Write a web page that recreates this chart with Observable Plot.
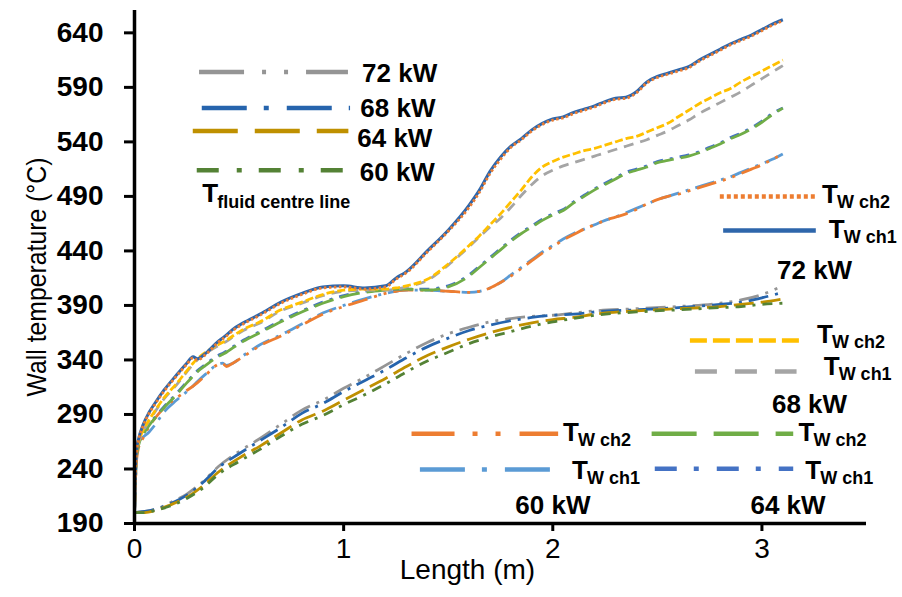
<!DOCTYPE html>
<html>
<head>
<meta charset="utf-8">
<script src="https://cdn.jsdelivr.net/npm/d3@7"></script>
<script src="https://cdn.jsdelivr.net/npm/@observablehq/plot@0.6"></script>
<style>
  body { margin: 0; background: #fff; }
  #chart svg { display: block; }
</style>
</head>
<body>
<div id="chart"></div>
<script>
// ---- Axis ticks ----
const xTicks = [0, 1, 2, 3];
const yTicks = [190, 240, 290, 340, 390, 440, 490, 540, 590, 640];

// ---- Wall temperature series (°C) along the channel length (m) ----
const wallLength = [0, 0.005, 0.01, 0.02, 0.04, 0.07, 0.1, 0.14, 0.2, 0.25,
  0.28, 0.3, 0.34, 0.4, 0.42, 0.44, 0.47, 0.52, 0.6, 0.7,
  0.8, 0.9, 1.0, 1.1, 1.2, 1.25, 1.3, 1.4, 1.5, 1.6,
  1.65, 1.7, 1.75, 1.8, 1.85, 1.9, 1.95, 2.0, 2.05, 2.1,
  2.15, 2.2, 2.25, 2.3, 2.35, 2.4, 2.45, 2.5, 2.55, 2.6,
  2.65, 2.7, 2.75, 2.8, 2.85, 2.9, 2.95, 3.0, 3.05, 3.1];

const wall72ch1 = [200, 240, 258, 268, 280, 292, 301, 312, 326, 337,
  343, 341, 346, 357, 360, 363, 368, 374, 382, 393,
  401, 407, 408, 406, 408, 415, 421, 440, 459, 482,
  496, 513, 526, 536, 543, 551, 557, 561, 563, 567,
  570, 573, 577, 580, 581, 586, 595, 600, 603, 606,
  609, 615, 620, 625, 630, 634, 638, 643, 648, 652];
const wall72ch2 = [200, 238, 256, 267, 279, 291, 300, 311, 325, 336,
  342, 340, 345, 356, 359, 362, 367, 373, 381, 392,
  400, 406, 407, 405, 407, 414, 420, 439, 458, 480,
  494, 511, 524, 535, 542, 550, 556, 560, 562, 566,
  569, 572, 576, 579, 580, 585, 594, 599, 602, 605,
  608, 614, 619, 624, 629, 633, 637, 642, 647, 651];
const wall68ch2 = [200, 236, 255, 265, 275, 285, 294, 305, 318, 330,
  337, 341, 347, 354, 356, 358, 362, 368, 375, 386,
  393, 400, 404, 405, 405, 406, 408, 414, 428, 445,
  454, 464, 474, 485, 496, 508, 517, 522, 526, 529,
  532, 534, 537, 540, 543, 545, 549, 553, 557, 563,
  569, 575, 580, 585, 589, 595, 600, 605, 610, 615];
const wall68ch1 = [200, 235, 254, 264, 274, 284, 293, 304, 317, 329,
  336, 340, 346, 353, 355, 357, 361, 367, 374, 385,
  392, 399, 403, 404, 404, 405, 407, 413, 427, 444,
  453, 462, 470, 480, 491, 501, 509, 514, 518, 521,
  524, 527, 530, 533, 536, 539, 542, 546, 550, 555,
  560, 566, 571, 576, 581, 586, 592, 598, 604, 610];
const wall64ch2 = [200, 232, 252, 262, 271, 280, 287, 296, 308, 319,
  325, 329, 335, 343, 345, 347, 351, 357, 365, 375,
  384, 392, 398, 402, 404, 405, 405, 404, 407, 417,
  425, 433, 441, 449, 456, 462, 468, 473, 477, 484,
  490, 496, 501, 506, 511, 514, 517, 521, 523, 525,
  527, 530, 534, 538, 543, 547, 552, 558, 565, 571];
const wall64ch1 = [200, 233, 253, 263, 272, 281, 288, 297, 309, 320,
  326, 330, 336, 344, 346, 348, 352, 358, 366, 376,
  385, 393, 399, 403, 404, 405, 405, 405, 408, 418,
  426, 434, 442, 450, 457, 463, 469, 474, 478, 485,
  491, 497, 502, 507, 512, 515, 518, 522, 524, 526,
  528, 531, 535, 539, 544, 548, 553, 559, 566, 571];
const wall60ch2 = [200, 228, 248, 260, 268, 279, 287, 296, 305, 312,
  316, 319, 326, 336, 337, 334, 337, 343, 353, 362,
  372, 382, 389, 395, 401, 403, 404, 404, 403, 402,
  403, 406, 411, 417, 424, 431, 438, 444, 450, 455,
  460, 464, 468, 471, 474, 478, 483, 487, 490, 492,
  495, 498, 501, 504, 507, 511, 515, 519, 524, 529];
const wall60ch1 = [200, 230, 255, 265, 269, 274, 281, 292, 303, 311,
  316, 320, 327, 336, 337, 335, 337, 344, 354, 363,
  373, 383, 390, 396, 401, 403, 404, 404, 403, 402,
  403, 406, 411, 418, 425, 432, 439, 445, 451, 456,
  460, 464, 468, 471, 475, 479, 483, 487, 490, 493,
  496, 499, 502, 505, 508, 512, 516, 520, 524, 529];

// ---- Fluid centre-line temperature series ----
const fluidLength = [0, 0.05, 0.1, 0.17, 0.25, 0.33, 0.4, 0.5, 0.6, 0.7,
  0.8, 0.9, 1.0, 1.1, 1.2, 1.3, 1.4, 1.5, 1.6, 1.7,
  1.8, 1.9, 2.0, 2.1, 2.2, 2.4, 2.6, 2.8, 2.9, 3.0, 3.1];
const fluid72 = [200, 201, 203, 209, 217, 229, 242, 256, 268, 281,
  294, 303, 314, 324, 335, 346, 356, 364, 370, 375,
  378, 380, 381, 383, 385, 387, 389, 392, 395, 400, 408];
const fluid68 = [200, 201, 203, 208, 216, 228, 241, 254, 266, 278,
  291, 300, 311, 321, 331, 342, 352, 360, 367, 372,
  376, 379, 381, 382, 384, 386, 388, 391, 393, 397, 402];
const fluid64 = [200, 200, 202, 207, 214, 225, 237, 250, 261, 273,
  285, 293, 303, 313, 323, 334, 344, 352, 359, 365,
  370, 374, 377, 379, 382, 385, 387, 389, 391, 393, 396];
const fluid60 = [200, 200, 202, 206, 213, 223, 235, 247, 258, 270,
  281, 289, 299, 308, 318, 329, 339, 347, 355, 361,
  366, 371, 375, 378, 381, 384, 386, 388, 389, 391, 392];

// ---- Series styling (line dash in the plot, larger dash for the key swatch) ----
const fluidSeries = [
  {name: "72 kW", x: fluidLength, y: fluid72, color: "#959595", dash: "20,7,3,7,3,7", key: "45,18,4,18,4,18"},
  {name: "68 kW", x: fluidLength, y: fluid68, color: "#2664ad", dash: "20,7,3,7", key: "45,17,5,18"},
  {name: "64 kW", x: fluidLength, y: fluid64, color: "#bf9000", dash: "20,7", key: "45,17"},
  {name: "60 kW", x: fluidLength, y: fluid60, color: "#548235", dash: "10,7,3,7", key: "22,18,5,17"}
];
const wallSeries = [
  {name: "60 kW ch1", y: wall60ch1, color: "#5b9bd5", dash: "20,7,3,7", key: "45,17,5,18"},
  {name: "60 kW ch2", y: wall60ch2, color: "#ed7d31", dash: "20,7,3,7,3,7", key: "43,18,5,18,5,19"},
  {name: "64 kW ch1", y: wall64ch1, color: "#4472c4", dash: "10,7,3,7", key: "22,17,5,18"},
  {name: "64 kW ch2", y: wall64ch2, color: "#70ad47", dash: "20,7", key: "45,17"},
  {name: "68 kW ch1", y: wall68ch1, color: "#a5a5a5", dash: "10,7", key: "22,18"},
  {name: "68 kW ch2", y: wall68ch2, color: "#ffc000", dash: "8,3", key: "17,6"},
  {name: "72 kW ch1", y: wall72ch1, color: "#2e66ab", dash: null, key: null},
  {name: "72 kW ch2", y: wall72ch2, color: "#ed7d31", dash: "2.5,2.5", key: "4,3"}
];

// ---- Key layout inside the plot (metres, °C) ----
const fluidKey = [
  {name: "72 kW", x1: 0.311, x2: 1.023, y: 604, tx: 1.088, ty: 602.5},
  {name: "68 kW", x1: 0.324, x2: 1.033, y: 571, tx: 1.080, ty: 570.5},
  {name: "64 kW", x1: 0.281, x2: 1.025, y: 550, tx: 1.065, ty: 543},
  {name: "60 kW", x1: 0.300, x2: 1.000, y: 514, tx: 1.077, ty: 512}
];
const fluidTitle = [{x: 0.324, y: 492.4, sub: "fluid centre line"}];
const wallKey = [
  {name: "72 kW ch2", x1: 2.801, x2: 3.263, y: 490, tx: 3.287, ty: 491.7, sub: "W ch2"},
  {name: "72 kW ch1", x1: 2.817, x2: 3.260, y: 458.7, tx: 3.319, ty: 459.6, sub: "W ch1"},
  {name: "68 kW ch2", x1: 2.658, x2: 3.203, y: 357.8, tx: 3.263, ty: 363.3, sub: "W ch2"},
  {name: "68 kW ch1", x1: 2.682, x2: 3.168, y: 329.4, tx: 3.295, ty: 334, sub: "W ch1"},
  {name: "60 kW ch2", x1: 1.327, x2: 2.028, y: 272.3, tx: 2.049, ty: 273.7, sub: "W ch2"},
  {name: "60 kW ch1", x1: 1.367, x2: 1.989, y: 239.5, tx: 2.092, ty: 238.6, sub: "W ch1"},
  {name: "64 kW ch2", x1: 2.475, x2: 3.152, y: 272.3, tx: 3.175, ty: 273.7, sub: "W ch2"},
  {name: "64 kW ch1", x1: 2.490, x2: 3.152, y: 240.2, tx: 3.207, ty: 238.6, sub: "W ch1"}
];
const powerLabels = [
  {text: "72 kW", x: 3.072, y: 422},
  {text: "68 kW", x: 3.048, y: 299},
  {text: "60 kW", x: 1.821, y: 206.5},
  {text: "64 kW", x: 2.945, y: 206.5}
];

const toRows = (xs, ys) => xs.map((x, i) => ({x, y: ys[i]}));

const lineMarks = [];
for (const s of fluidSeries) {
  lineMarks.push(Plot.line(toRows(s.x, s.y), {
    x: "x", y: "y", stroke: s.color, strokeWidth: 2.8,
    strokeDasharray: s.dash, strokeLinecap: "butt", curve: "monotone-x"
  }));
}
for (const s of wallSeries) {
  lineMarks.push(Plot.line(toRows(wallLength, s.y), {
    x: "x", y: "y", stroke: s.color, strokeWidth: s.dash ? 2.8 : 3,
    strokeDasharray: s.dash ?? undefined, strokeLinecap: "butt", curve: "monotone-x"
  }));
}

const styleOf = name => wallSeries.find(s => s.name === name);
const fluidStyleOf = name => fluidSeries.find(s => s.name === name);

const keyMarks = [];
for (const k of fluidKey) {
  const st = fluidStyleOf(k.name);
  keyMarks.push(Plot.ruleY([k], {x1: "x1", x2: "x2", y: "y", stroke: st.color, strokeWidth: 4.5, strokeDasharray: st.key, strokeLinecap: "butt"}));
}
for (const k of wallKey) {
  const st = styleOf(k.name);
  keyMarks.push(Plot.ruleY([k], {x1: "x1", x2: "x2", y: "y", stroke: st.color, strokeWidth: 4.5, strokeDasharray: st.key ?? undefined, strokeLinecap: "butt"}));
}
const bold = {fontWeight: "bold", fill: "#000", textAnchor: "start"};
keyMarks.push(
  Plot.text(fluidKey, {x: "tx", y: "ty", text: "name", fontSize: 26, ...bold}),
  Plot.text(fluidTitle, {x: "x", y: "y", text: () => "T", fontSize: 26, ...bold}),
  Plot.text(fluidTitle, {x: "x", y: "y", text: "sub", fontSize: 18, dx: 15, dy: 8, ...bold}),
  Plot.text(wallKey, {x: "tx", y: "ty", text: () => "T", fontSize: 26, ...bold}),
  Plot.text(wallKey, {x: "tx", y: "ty", text: "sub", fontSize: 18, dx: 15, dy: 8, ...bold}),
  Plot.text(powerLabels, {x: "x", y: "y", text: "text", fontSize: 26, ...bold})
);

const yTitle = "Wall temperature (°C)";
const xTitle = "Length (m)";

const chart = Plot.plot({
  width: 902,
  height: 597,
  marginLeft: 134,
  marginRight: 36,
  marginTop: 10,
  marginBottom: 74,
  style: {fontFamily: "'Liberation Sans', Arial, sans-serif", background: "#fff", color: "#000"},
  x: {domain: [0, 3.5]},
  y: {domain: [190, 660.5]},
  marks: [
    Plot.axisX(xTicks, {tickSize: 8, tickPadding: 7, label: null, strokeWidth: 3, fontSize: 28, tickFormat: d => String(d)}),
    Plot.axisY(yTicks, {tickSize: 10, tickPadding: 21, label: null, strokeWidth: 3, fontSize: 28, fontWeight: "bold", tickFormat: d => String(d)}),
    ...lineMarks,
    ...keyMarks,
    Plot.ruleX([0], {stroke: "#000", strokeWidth: 3.5}),
    Plot.ruleY([190], {stroke: "#000", strokeWidth: 3.5}),
    Plot.text([yTitle], {frameAnchor: "left", textAnchor: "middle", rotate: -90, dx: -97, dy: 10, fontSize: 28}),
    Plot.text([xTitle], {frameAnchor: "bottom", textAnchor: "middle", dx: -33, dy: 55, fontSize: 28})
  ]
});

document.getElementById("chart").appendChild(chart);

// typography tweaks: tick labels, condensed axis titles
const svg = d3.select(chart);
svg.selectAll('g[aria-label="y-axis tick label"] text').attr("font-size", 28).attr("font-weight", "bold");
svg.selectAll('g[aria-label="x-axis tick label"] text').attr("font-size", 28);
svg.selectAll('g[aria-label="y-axis tick"], g[aria-label="x-axis tick"]').attr("stroke-width", 3).attr("stroke", "#000");
svg.selectAll("text").filter(function () { return this.textContent === yTitle; })
  .each(function () {
    const t = this.getAttribute("transform") || "";
    this.setAttribute("transform", t + " scale(0.885,1)");
  });
</script>
</body>
</html>
